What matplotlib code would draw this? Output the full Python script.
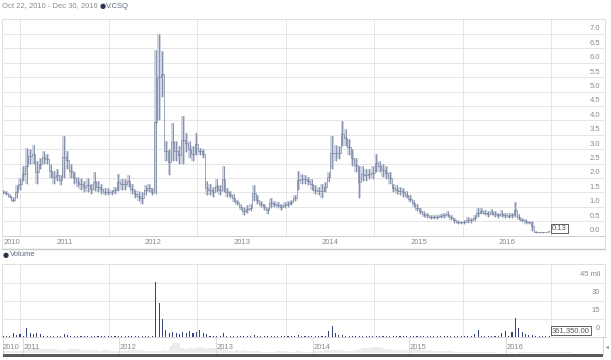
import matplotlib
matplotlib.use("Agg")
import matplotlib.pyplot as plt
import matplotlib.dates as mdates
import matplotlib.transforms as mtrans
from matplotlib.lines import Line2D
from matplotlib.patches import Rectangle
import numpy as np
import pandas as pd

plt.rcParams.update({"font.family": ["Liberation Sans", "DejaVu Sans"], "font.size": 5.5})

START = "2010-10-22"
END = "2016-12-30"

# biweekly bars, high / low in CAD
PRICE_HIGH = [
    1.6, 1.55, 1.45, 1.35, 1.75, 2.0, 2.4, 3.05, 3.0, 3.15,
    2.6, 2.7, 2.95, 2.85, 2.5, 2.25, 2.3, 2.1, 3.45, 2.95,
    2.5, 2.2, 2.05, 2.0, 1.9, 2.0, 1.8, 2.2, 1.9, 1.8,
    1.65, 1.65, 1.6, 1.7, 2.15, 1.95, 1.95, 2.1, 1.8, 1.6,
    1.55, 1.5, 1.75, 1.8, 1.65, 6.45, 7.0, 6.4, 3.3, 3.0,
    3.9, 3.3, 3.1, 4.15, 3.55, 3.3, 3.1, 3.55, 3.05, 3.0,
    1.9, 1.8, 1.7, 1.95, 1.75, 2.4, 1.65, 1.55, 1.45, 1.25,
    1.1, 1.0, 1.05, 1.1, 1.75, 1.4, 1.2, 1.1, 1.0, 1.3,
    1.2, 1.15, 1.1, 1.15, 1.2, 1.25, 1.4, 2.25, 2.15, 2.1,
    2.05, 1.95, 1.75, 1.7, 1.8, 1.85, 2.2, 3.45, 3.15, 3.1,
    3.98, 3.7, 3.35, 3.0, 2.7, 2.4, 2.4, 2.3, 2.3, 2.4,
    2.85, 2.6, 2.5, 2.4, 2.2, 1.8, 1.75, 1.7, 1.65, 1.55,
    1.4, 1.25, 1.1, 0.95, 0.85, 0.8, 0.72, 0.72, 0.73, 0.75,
    0.78, 0.85, 0.72, 0.6, 0.55, 0.52, 0.55, 0.65, 0.6, 0.7,
    0.95, 0.95, 0.9, 0.85, 0.92, 0.85, 0.8, 0.88, 0.8, 0.78,
    0.78, 1.15, 0.75, 0.62, 0.58, 0.52, 0.5, 0.15, 0.13, 0.13,
    0.14, 0.17,
]
PRICE_LOW = [
    1.45, 1.4, 1.3, 1.15, 1.3, 1.6, 1.9, 1.8, 2.5, 2.5,
    1.8, 2.3, 2.5, 2.5, 2.0, 1.8, 1.9, 1.75, 2.0, 2.3,
    2.0, 1.8, 1.7, 1.6, 1.5, 1.5, 1.45, 1.55, 1.5, 1.45,
    1.4, 1.4, 1.4, 1.45, 1.55, 1.6, 1.6, 1.7, 1.45, 1.3,
    1.2, 1.1, 1.4, 1.5, 1.4, 1.45, 4.0, 4.8, 2.6, 2.1,
    2.6, 2.6, 2.5, 2.5, 2.9, 2.7, 2.6, 2.8, 2.8, 2.7,
    1.4, 1.4, 1.35, 1.5, 1.4, 1.5, 1.35, 1.3, 1.15, 1.05,
    0.9, 0.72, 0.8, 0.85, 1.2, 1.1, 1.0, 0.9, 0.75, 0.95,
    1.0, 0.95, 0.9, 0.95, 1.0, 1.05, 1.2, 1.6, 1.8, 1.8,
    1.75, 1.6, 1.45, 1.4, 1.3, 1.5, 1.85, 2.3, 2.6, 2.65,
    3.1, 3.1, 2.8, 2.4, 2.2, 1.3, 1.9, 1.9, 1.95, 1.95,
    2.2, 2.2, 2.05, 1.95, 1.8, 1.5, 1.45, 1.4, 1.35, 1.3,
    1.15, 1.0, 0.85, 0.75, 0.65, 0.62, 0.58, 0.58, 0.58, 0.6,
    0.62, 0.65, 0.55, 0.45, 0.42, 0.4, 0.42, 0.45, 0.45, 0.5,
    0.65, 0.75, 0.7, 0.65, 0.72, 0.65, 0.6, 0.65, 0.62, 0.6,
    0.62, 0.65, 0.55, 0.48, 0.42, 0.4, 0.15, 0.1, 0.1, 0.1,
    0.11, 0.13,
]
# biweekly volume, millions of shares
VOLUME = [
    0.8, 0.5, 0.6, 3.0, 1.5, 2.0, 1.0, 7.0, 3.0, 2.5,
    3.0, 2.5, 0.8, 0.5, 0.5, 0.4, 0.5, 0.6, 2.0, 1.5,
    0.8, 0.6, 0.5, 0.6, 0.5, 0.7, 0.5, 0.6, 0.5, 0.4,
    0.5, 0.4, 0.3, 0.5, 0.8, 0.5, 0.4, 0.5, 0.4, 0.3,
    0.4, 0.5, 0.4, 0.5, 0.6, 46.0, 28.0, 15.0, 6.0, 3.5,
    4.0, 3.0, 2.0, 4.0, 3.0, 4.5, 3.0, 4.0, 5.5, 3.0,
    2.0, 1.0, 0.8, 1.0, 0.7, 3.0, 0.6, 0.5, 0.4, 0.5,
    0.4, 0.5, 0.6, 0.5, 1.2, 0.6, 0.5, 0.4, 0.5, 0.7,
    0.5, 0.4, 0.5, 0.6, 0.4, 0.5, 0.8, 1.2, 0.6, 0.5,
    0.4, 0.5, 0.4, 0.3, 0.5, 0.6, 5.0, 9.0, 3.0, 1.5,
    1.5, 1.0, 0.8, 0.7, 0.6, 0.8, 0.5, 0.5, 0.4, 0.5,
    0.7, 0.5, 0.4, 0.3, 0.4, 0.5, 0.4, 0.3, 0.4, 0.3,
    0.4, 0.3, 0.3, 0.4, 0.3, 0.5, 0.3, 0.3, 0.4, 0.3,
    0.3, 0.4, 0.3, 0.5, 0.4, 0.3, 0.4, 0.5, 0.3, 2.0,
    5.5, 0.6, 0.5, 0.4, 0.5, 0.4, 0.6, 3.0, 5.0, 1.0,
    4.0, 16.0, 7.0, 4.0, 2.0, 1.5, 1.2, 0.4, 0.3, 0.3,
    0.3, 0.36135,
]
PRICE_TICKS = [0.0, 0.5, 1.0, 1.5, 2.0, 2.5, 3.0, 3.5, 4.0, 4.5, 5.0, 5.5, 6.0, 6.5, 7.0]
VOL_TICKS = [0, 15, 30, 45]
VOL_TICK_LABELS = ["0", "15", "30", "45 mil"]
YEARS = [2010, 2011, 2012, 2013, 2014, 2015, 2016]
LAST_PRICE = "0.13"
LAST_VOLUME = "361,350.00"

W, H = 611, 360
LINE = "#7a86a2"
FILL = "#cdd3e0"
BAR = "#34447a"
GRID = "#e6e6e6"
TXT = "#8a8a8a"


def fig_axes(fig, x0, y0, x1, y1):
    # pixel box (top-left origin) -> axes
    return fig.add_axes([x0 / W, 1 - y1 / H, (x1 - x0) / W, (y1 - y0) / H])


def main():
    dates = pd.date_range(START, periods=len(PRICE_HIGH), freq="14D")
    hi = np.array(PRICE_HIGH)
    lo = np.array(PRICE_LOW)
    vol = np.array(VOLUME)

    t0 = mdates.date2num(pd.Timestamp(START))
    t1 = mdates.date2num(pd.Timestamp(END))
    ppd = 548 / (t1 - t0)  # pixels per day in the main panels
    xlim = (t0 - 1 / ppd, t0 + 602 / ppd)

    fig = plt.figure(figsize=(W / 100, H / 100), dpi=100)

    fig.text(2 / W, 1 - 6 / H, "Oct 22, 2010 - Dec 30, 2016", color=TXT, va="center", ha="left")
    fig.text(100 / W, 1 - 6 / H, "\u25cf", color="#2c3350", va="center", ha="left",
             fontsize=5, family="DejaVu Sans")
    fig.text(106 / W, 1 - 6 / H, "V.CSQ", color="#5c6680", va="center", ha="left")

    # ---- price panel
    ax = fig_axes(fig, 2, 19, 605, 235.6)
    ax.set_xlim(xlim)
    ax.set_ylim(0, 216.6 / 28.8)
    for y in PRICE_TICKS:
        ax.axhline(y, color=GRID, lw=0.7, zorder=0)
    for yr in YEARS[1:] + [2017]:
        ax.axvline(mdates.date2num(pd.Timestamp(f"{yr}-01-01")), color=GRID, lw=0.7, zorder=0)
    ax.fill_between(dates, lo, hi, step="mid", color=FILL, lw=0, zorder=1)
    ax.vlines(dates, lo, hi, color=LINE, lw=0.6, zorder=2)
    ax.plot(dates, (hi + lo) / 2, drawstyle="steps-mid", color=LINE, lw=0.5, zorder=2)
    lab_tr = mtrans.offset_copy(ax.get_yaxis_transform(), fig=fig, y=5, units="dots")
    for y in PRICE_TICKS:
        ax.text(598 / 603, y, f"{y:.1f}", transform=lab_tr, ha="right", va="center", color=TXT)
    ax.text(mdates.date2num(pd.Timestamp(END)) + 1 / ppd, 0.13, LAST_PRICE, ha="left", va="bottom",
            color="#555555", fontsize=5.5,
            bbox=dict(boxstyle="square,pad=0.15", fc="white", ec="#444444", lw=0.6))
    for yr in YEARS:
        a = max(pd.Timestamp(f"{yr}-01-01"), pd.Timestamp(START))
        b = min(pd.Timestamp(f"{yr + 1}-01-01"), pd.Timestamp(END))
        mid = mdates.date2num(a) + (mdates.date2num(b) - mdates.date2num(a)) / 2
        ax.text(mid, -7.1 / 216.6, str(yr), transform=ax.get_xaxis_transform(),
                ha="center", va="center", color=TXT)
    ax.set_xticks([])
    ax.set_yticks([])
    for s in ax.spines.values():
        s.set_color("#e0e0e0")
        s.set_linewidth(0.7)
    ax.spines["bottom"].set_color("#d0d0d0")

    fig.add_artist(Line2D([2 / W, 605 / W], [1 - 249 / H] * 2, color="#c8c8c8", lw=1.0))
    fig.add_artist(Line2D([2 / W, 2 / W], [1 - 249 / H, 1 - 235.6 / H], color="#e0e0e0", lw=0.7))
    fig.add_artist(Line2D([605 / W, 605 / W], [1 - 249 / H, 1 - 235.6 / H], color="#e0e0e0", lw=0.7))

    fig.text(3 / W, 1 - 255 / H, "\u25cf", color="#2c3350", va="center", ha="left",
             fontsize=5, family="DejaVu Sans")
    fig.text(9.5 / W, 1 - 255 / H, "Volume", color="#5c6680", va="center", ha="left")

    # ---- volume panel
    av = fig_axes(fig, 2, 264, 605, 336.7)
    av.set_xlim(xlim)
    av.set_ylim(0, 72.7 / 1.2)
    for y in VOL_TICKS:
        av.axhline(y, color=GRID, lw=0.7, zorder=0)
    for yr in YEARS[1:] + [2017]:
        av.axvline(mdates.date2num(pd.Timestamp(f"{yr}-01-01")), color=GRID, lw=0.7, zorder=0)
    av.bar(dates, vol, width=4.5, color=BAR, lw=0, zorder=2)
    vlab_tr = mtrans.offset_copy(av.get_yaxis_transform(), fig=fig, y=8, units="dots")
    for y, s in zip(VOL_TICKS, VOL_TICK_LABELS):
        av.text(598 / 603, y, s, transform=vlab_tr, ha="right", va="center", color=TXT)
    av.text(mdates.date2num(pd.Timestamp(END)) + 1 / ppd, 5.3, LAST_VOLUME, ha="left", va="center",
            color="#555555", fontsize=5.5,
            bbox=dict(boxstyle="square,pad=0.15", fc="white", ec="#444444", lw=0.6))
    av.set_xticks([])
    av.set_yticks([])
    for s in av.spines.values():
        s.set_color("#e0e0e0")
        s.set_linewidth(0.7)
    av.spines["bottom"].set_color("#c0c0c0")

    # ---- navigator strip
    an = fig_axes(fig, 3, 337, 603, 353.5)
    nppd = 600 / (t1 - t0)
    an.set_xlim(t0 - 1 / nppd, t1 + 1 / nppd)
    an.set_ylim(0, 9)
    an.fill_between(dates, 0, (hi + lo) / 2, step="mid", color="#ececec", lw=0)
    for yr in YEARS[1:]:
        x = mdates.date2num(pd.Timestamp(f"{yr}-01-01"))
        an.axvline(x, color="#d8d8d8", lw=0.6, ymax=1)
        an.text(x + 0.6 / nppd, 0.35, str(yr), transform=an.get_xaxis_transform(),
                ha="left", va="center", color=TXT)
    an.text(t0 - 1 / nppd, 0.35, "2010", transform=an.get_xaxis_transform(),
            ha="left", va="center", color=TXT)
    an.set_xticks([])
    an.set_yticks([])
    for s in an.spines.values():
        s.set_color("#d0d0d0")
        s.set_linewidth(0.6)
    fig.add_artist(Rectangle((3 / W, 1 - 356.5 / H), 600 / W, 3 / H, transform=fig.transFigure,
                             color="#5a5a5a", lw=0))
    fig.text(607 / W, 1 - 347 / H, "\u25c2", color="#777777", ha="center", va="center",
             fontsize=4, family="DejaVu Sans")

    fig.savefig("out.png", dpi=100)


if __name__ == "__main__":
    main()
